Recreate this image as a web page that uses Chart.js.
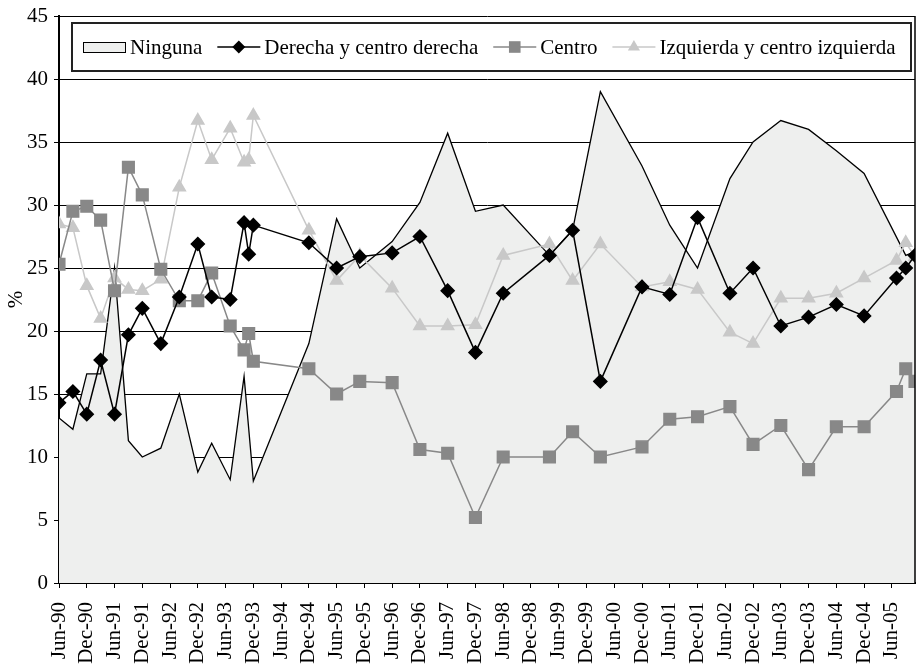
<!DOCTYPE html>
<html>
<head>
<meta charset="utf-8">
<script src="https://cdn.jsdelivr.net/npm/chart.js@4.4.0/dist/chart.umd.min.js"></script>
<style>
  html, body { margin: 0; padding: 0; background: #fff; }
  #wrap { position: relative; width: 916px; height: 665px; }
</style>
</head>
<body>
<div id="wrap"><canvas id="myChart"></canvas></div>
<script>
// x = months counted from Jun-90
const tickLabels = ['Jun-90','Dec-90','Jun-91','Dec-91','Jun-92','Dec-92','Jun-93','Dec-93','Jun-94','Dec-94',
  'Jun-95','Dec-95','Jun-96','Dec-96','Jun-97','Dec-97','Jun-98','Dec-98','Jun-99','Dec-99',
  'Jun-00','Dec-00','Jun-01','Dec-01','Jun-02','Dec-02','Jun-03','Dec-03','Jun-04','Dec-04','Jun-05'];

const ningunaMonths = [0,3,6,9,12,15,18,22,26,30,33,37,40,42,54,60,65,72,78,84,90,96,106,111,117,126,132,138,145,150,156,162,168,174,183,185];
const ninguna = [13.1,12.2,16.6,16.6,25.0,11.3,10.0,10.7,15.0,8.8,11.1,8.2,16.4,8.1,19.0,28.9,25.0,27.1,30.2,35.7,
  29.5,30.0,26.0,28.0,39.0,33.1,28.4,25.0,32.1,35.0,36.7,36.0,34.3,32.5,26.0,26.3];

const lineMonths = [0,3,6,9,12,15,18,22,26,30,33,37,40,41,42,54,60,65,72,78,84,90,96,106,111,117,126,132,138,145,150,156,162,168,174,181,183,185];
const derecha = [14.3,15.2,13.4,17.7,13.4,19.7,21.8,19.0,22.7,26.9,22.7,22.5,28.6,26.1,28.4,27.0,25.0,25.9,26.2,27.5,
  23.2,18.3,23.0,26.0,28.0,16.0,23.5,22.9,29.0,23.0,25.0,20.4,21.1,22.1,21.2,24.2,25.0,26.0];
const centro = [25.3,29.5,29.9,28.8,23.2,33.0,30.8,24.9,22.4,22.4,24.6,20.4,18.5,19.8,17.6,17.0,15.0,16.0,15.9,10.6,
  10.3,5.2,10.0,10.0,12.0,10.0,10.8,13.0,13.2,14.0,11.0,12.5,9.0,12.4,12.4,15.2,17.0,16.0];
const izquierda = [28.5,28.2,23.6,21.0,24.2,23.3,23.2,24.1,31.4,36.7,33.6,36.1,33.4,33.6,37.1,28.0,24.0,26.0,23.4,20.4,
  20.4,20.5,26.0,26.9,24.0,26.9,23.5,23.9,23.3,19.9,19.0,22.6,22.6,23.0,24.2,25.6,27.0,25.9];

const FONT = 'Liberation Serif';

function pts(xs, ys) {
  return xs.map((m, i) => ({ x: m, y: ys[i] }));
}

function marker(ctx, style, color, x, y) {
  ctx.fillStyle = color;
  ctx.beginPath();
  if (style === 'rectRot') {
    const r = 6.5;
    ctx.moveTo(x, y - r); ctx.lineTo(x + r, y); ctx.lineTo(x, y + r); ctx.lineTo(x - r, y);
  } else if (style === 'rect') {
    const h = 5.8;
    ctx.rect(x - h, y - h, 2 * h, 2 * h);
  } else if (style === 'triangle') {
    const r = 7;
    ctx.moveTo(x, y - r); ctx.lineTo(x + r * 0.866, y + r / 2); ctx.lineTo(x - r * 0.866, y + r / 2);
  }
  ctx.closePath();
  ctx.fill();
}

// legend box drawn inside the plot, Excel style
const boxLegend = {
  id: 'boxLegend',
  afterDraw(chart) {
    const ctx = chart.ctx;
    const a = chart.chartArea;
    const bx = a.left + 13, by = a.top + 7, bw = a.right - 4 - bx, bh = 48;
    const cy = by + bh / 2;
    ctx.save();
    ctx.fillStyle = '#fff';
    ctx.fillRect(bx, by, bw, bh);
    ctx.lineWidth = 2;
    ctx.strokeStyle = '#222';
    ctx.strokeRect(bx, by, bw, bh);
    ctx.font = '21px "' + FONT + '"';
    ctx.textBaseline = 'middle';
    let x = bx + 11;
    chart.data.datasets.forEach((ds, i) => {
      if (i === 0) {
        ctx.fillStyle = ds.backgroundColor;
        ctx.fillRect(x, cy - 5, 43, 10);
        ctx.lineWidth = 1;
        ctx.strokeStyle = '#000';
        ctx.strokeRect(x + 0.5, cy - 5 + 0.5, 42, 10);
      } else {
        ctx.lineWidth = 1.5;
        ctx.strokeStyle = ds.borderColor;
        ctx.beginPath();
        ctx.moveTo(x, cy); ctx.lineTo(x + 43, cy);
        ctx.stroke();
        marker(ctx, ds.pointStyle, ds.pointBackgroundColor, x + 21.5, cy);
      }
      x += 47;
      ctx.fillStyle = '#000';
      ctx.fillText(ds.label, x, cy + 1);
      x += ctx.measureText(ds.label).width + 15;
    });
    // right edge of plot frame
    ctx.lineWidth = 1.5;
    ctx.strokeStyle = '#000';
    ctx.beginPath();
    ctx.moveTo(a.right, a.top);
    ctx.lineTo(a.right, a.bottom);
    ctx.stroke();
    ctx.restore();
  }
};

new Chart(document.getElementById('myChart'), {
  type: 'line',
  data: {
    datasets: [
      {
        label: 'Ninguna',
        data: pts(ningunaMonths, ninguna),
        fill: 'origin',
        backgroundColor: '#eeefee',
        borderColor: '#000',
        borderWidth: 1.3,
        pointRadius: 0,
        order: 4
      },
      {
        label: 'Derecha y centro derecha',
        data: pts(lineMonths, derecha),
        borderColor: '#000',
        borderWidth: 1.5,
        pointStyle: 'rectRot',
        pointRadius: 6.5,
        pointBackgroundColor: '#000',
        pointBorderColor: '#000',
        order: 1
      },
      {
        label: 'Centro',
        data: pts(lineMonths, centro),
        borderColor: '#888',
        borderWidth: 1.5,
        pointStyle: 'rect',
        pointRadius: 8.2,
        pointBackgroundColor: '#888',
        pointBorderColor: '#888',
        order: 2
      },
      {
        label: 'Izquierda y centro izquierda',
        data: pts(lineMonths, izquierda),
        borderColor: '#c8c8c8',
        borderWidth: 1.5,
        pointStyle: 'triangle',
        pointRadius: 7,
        pointBackgroundColor: '#c8c8c8',
        pointBorderColor: '#c8c8c8',
        order: 3
      }
    ]
  },
  options: {
    responsive: true,
    maintainAspectRatio: false,
    animation: false,
    layout: { autoPadding: false, padding: { top: 16, right: 1, left: 0, bottom: 0 } },
    elements: { line: { tension: 0 } },
    plugins: { legend: { display: false }, tooltip: { enabled: false } },
    scales: {
      x: {
        type: 'linear',
        min: 0,
        max: 185,
        afterFit: s => { s.height = 82; s.paddingLeft = 0; s.paddingRight = 0; },
        ticks: {
          stepSize: 6,
          includeBounds: false,
          autoSkip: false,
          minRotation: 90,
          maxRotation: 90,
          padding: 14,
          color: '#000',
          font: { family: FONT, size: 21 },
          callback: v => tickLabels[v / 6]
        },
        grid: { drawOnChartArea: false, tickLength: 5, color: '#000', lineWidth: 1 },
        border: { color: '#000', width: 2 }
      },
      y: {
        min: 0,
        max: 45,
        afterFit: s => { s.width = 59; s.paddingTop = 0; s.paddingBottom = 0; },
        ticks: {
          stepSize: 5,
          padding: 6,
          color: '#000',
          font: { family: FONT, size: 21 }
        },
        grid: { color: '#000', lineWidth: 1, tickLength: 5 },
        border: { color: '#000', width: 2 },
        title: {
          display: true,
          text: '%',
          color: '#000',
          font: { family: FONT, size: 21 },
          padding: { top: 4, bottom: 0 }
        }
      }
    }
  },
  plugins: [boxLegend]
});
</script>
</body>
</html>
